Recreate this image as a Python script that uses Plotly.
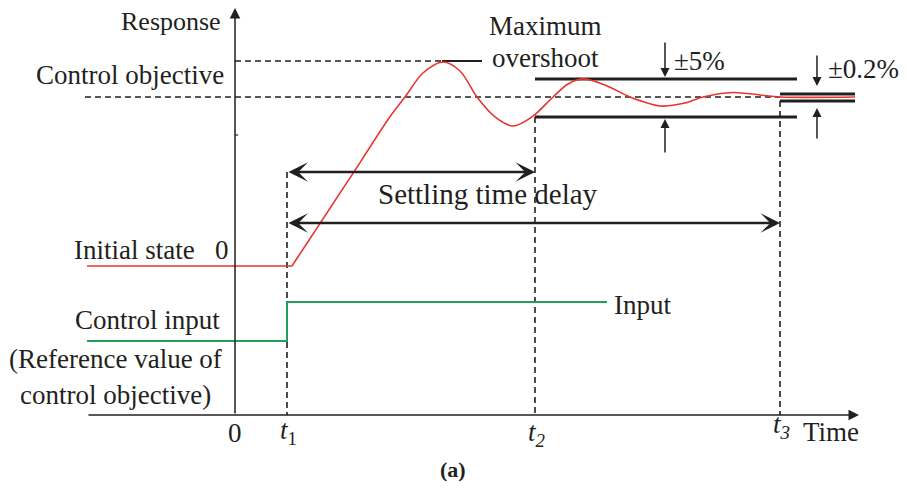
import plotly.graph_objects as go

# ---- data (time units: t1 = 1; response units: initial = 0, objective = 1) ----
t_start = -2.846
t1, t2, t3 = 1.0, 5.769, 10.481
r_initial, r_objective, r_overshoot = 0.0, 1.0, 1.213
band5_hi, band5_lo = 1.107, 0.882
band02_hi, band02_lo = 1.018, 0.976
r_axis = -0.882
r_top = 1.527
t_axis_end = 12.0

input_low, input_high = -0.444, -0.213
input_end = 7.154

# red response curve
ramp_t = [t_start, 1.096, 2.404]
ramp_r = [0.0, 0.0, 0.612]
osc_t = [2.404, 3.0, 3.269, 3.615, 4.0, 4.327, 4.654, 5.0, 5.346, 5.712, 6.115,
         6.404, 6.692, 7.115, 7.596, 8.173, 8.654, 9.0, 9.577, 10.096, 10.481, 11.923]
osc_r = [0.612, 0.892, 1.0, 1.142, 1.207, 1.154, 1.0, 0.882, 0.828, 0.882, 1.0,
         1.077, 1.107, 1.071, 1.0, 0.947, 0.964, 1.0, 1.027, 1.012, 1.0, 1.0]

settle1_r, settle2_r = 0.556, 0.254

INK = "#231f20"
RED = "#e8352e"
GREEN = "#22a05a"
FONT = "Liberation Serif"
FS = 27

fig = go.Figure()
fig.add_trace(go.Scatter(x=ramp_t, y=ramp_r, mode="lines",
                         line=dict(color=RED, width=1.6), hoverinfo="skip"))
fig.add_trace(go.Scatter(x=osc_t, y=osc_r, mode="lines",
                         line=dict(color=RED, width=1.6, shape="spline", smoothing=0.9),
                         hoverinfo="skip"))
fig.add_trace(go.Scatter(x=[t_start, t1, t1, input_end],
                         y=[input_low, input_low, input_high, input_high],
                         mode="lines", line=dict(color=GREEN, width=2), hoverinfo="skip"))

shapes = []
def seg(x0, y0, x1, y1, width=1.5, dash=None, color=INK):
    ln = dict(color=color, width=width)
    if dash:
        ln["dash"] = dash
    shapes.append(dict(type="line", xref="x", yref="y", x0=x0, y0=y0, x1=x1, y1=y1,
                       line=ln, layer="below"))

D = "6px,4px"
seg(-2.885, r_objective, t3, r_objective, 1.6, D)
seg(0, r_overshoot, 3.981, r_overshoot, 1.6, D)
seg(3.981, r_overshoot, 4.75, r_overshoot, 2)
seg(t2, band5_hi, 10.808, band5_hi, 3)
seg(t2, band5_lo, 10.808, band5_lo, 3)
seg(t3, band02_hi, 11.923, band02_hi, 3)
seg(t3, band02_lo, 11.923, band02_lo, 3)
seg(t1, settle1_r, t1, r_axis, 1.6, D)
seg(t2, band5_lo, t2, r_axis, 1.6, D)
seg(t3, band02_lo, t3, r_axis, 1.6, D)
seg(0, 0.775, 0.06, 0.775, 1.2)

ann = []
def arrow(x0, y0, x1, y1, width=1.5, head=2, size=1.2, both=False):
    a = dict(x=x1, y=y1, ax=x0, ay=y0, xref="x", yref="y", axref="x", ayref="y",
             text="", showarrow=True, arrowhead=head, arrowsize=size,
             arrowwidth=width, arrowcolor=INK, standoff=0)
    if both:
        a.update(arrowside="end+start", startarrowhead=head, startarrowsize=size,
                 startstandoff=0)
    ann.append(a)

arrow(0, r_axis, 0, r_top, 1.5, 2, 1.4)
arrow(t_start, r_axis, t_axis_end, r_axis, 1.5, 2, 1.4)
arrow(t1, settle1_r, t2, settle1_r, 2.5, 3, 1.3, both=True)
arrow(t1, settle2_r, t3, settle2_r, 2.5, 3, 1.3, both=True)
arrow(8.269, 1.331, 8.269, 1.118, 1.5, 2, 1.2)
arrow(8.269, 0.663, 8.269, 0.870, 1.5, 2, 1.2)
arrow(11.192, 1.255, 11.192, 1.065, 1.5, 2, 1.2)
arrow(11.192, 0.746, 11.192, 0.935, 1.5, 2, 1.2)

def label(x, y, text, xanchor="center", size=FS, yanchor="middle"):
    ann.append(dict(x=x, y=y, xref="x", yref="y", text=text, showarrow=False,
                    xanchor=xanchor, yanchor=yanchor,
                    font=dict(family=FONT, size=size, color=INK)))

label(-0.231, 1.444, "Response", "right", size=26)
label(-0.173, 1.130, "Control objective", "right")
label(5.962, 1.420, "Maximum")
label(5.962, 1.231, "overshoot")
label(8.942, 1.213, "±5%")
label(12.096, 1.166, "±0.2%")
label(4.865, 0.426, "Settling time delay", size=29)
label(-0.731, 0.095, "Initial state", "right")
label(-0.25, 0.095, "0")
label(-0.25, -0.320, "Control input", "right")
label(-0.212, -0.550, "(Reference value of", "right")
label(-0.423, -0.763, "control objective)", "right")
label(7.25, -0.231, "Input", "left")
label(0, -0.988, "0")
label(1.03, -0.985, "<i>t</i><sub>1</sub>")
label(5.80, -0.995, "<i>t<sub>2</sub></i>")
label(10.50, -0.945, "<i>t<sub>3</sub></i>")
label(11.471, -0.982, "Time")
ann.append(dict(x=4.192, y=-1.207, xref="x", yref="y", text="<b>(a)</b>",
                showarrow=False, font=dict(family=FONT, size=22, color=INK)))

# page body has an 8px margin, so the figure is 8px smaller and its view shifted
OFF = 8
fig.update_layout(
    width=907 - OFF, height=488 - OFF,
    margin=dict(l=0, r=0, t=0, b=0, pad=0, autoexpand=False),
    paper_bgcolor="white", plot_bgcolor="white", showlegend=False,
    shapes=shapes, annotations=ann,
    xaxis=dict(range=[(OFF - 235) / 52, (907 - 235) / 52], visible=False, fixedrange=True),
    yaxis=dict(range=[(266 - 488) / 169, (266 - OFF) / 169], visible=False, fixedrange=True),
)
fig.write_html("out.html")
